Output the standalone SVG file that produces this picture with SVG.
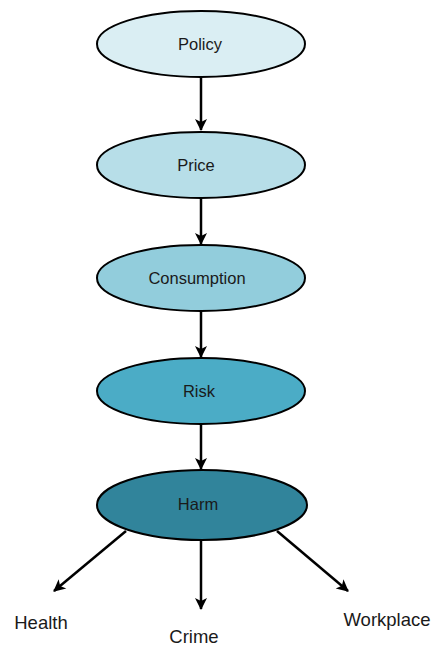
<svg xmlns="http://www.w3.org/2000/svg" width="434" height="648" viewBox="0 0 434 648">
<style>
.node{stroke:#000;stroke-width:2}
.lbl{font-family:"Liberation Sans",Arial,sans-serif;font-size:16.5px;fill:#1a1a1a;text-anchor:middle;dominant-baseline:central}
.out{font-family:"Liberation Sans",Arial,sans-serif;font-size:18.5px;fill:#1a1a1a;text-anchor:middle}
.con{stroke:#000;stroke-width:2.5;fill:none;marker-end:url(#ah)}
</style>
<defs>
<marker id="ah" markerUnits="userSpaceOnUse" markerWidth="14" markerHeight="14" viewBox="0 0 14 14" refX="12" refY="7" orient="auto">
<path d="M1,1 L13,7 L1,13 L4,7 z" fill="#000"/>
</marker>
</defs>
<rect width="434" height="648" fill="#fff"/>
<g id="connectors">
<line class="con" x1="201" y1="78" x2="201" y2="130"/>
<line class="con" x1="201" y1="199" x2="201" y2="244"/>
<line class="con" x1="201" y1="312" x2="201" y2="357"/>
<line class="con" x1="201" y1="425" x2="201" y2="469"/>
<line class="con" x1="126" y1="531" x2="54" y2="591"/>
<line class="con" x1="201" y1="540" x2="201" y2="609"/>
<line class="con" x1="277" y1="531" x2="348" y2="591"/>
</g>
<g id="policy"><ellipse class="node" cx="201" cy="44" rx="104" ry="33" fill="#DAEEF3"/><text class="lbl" x="200" y="44">Policy</text></g>
<g id="price"><ellipse class="node" cx="201" cy="165" rx="104" ry="33" fill="#B7DEE8"/><text class="lbl" x="196" y="165">Price</text></g>
<g id="consumption"><ellipse class="node" cx="201" cy="278" rx="104" ry="33" fill="#92CDDC"/><text class="lbl" x="197" y="278">Consumption</text></g>
<g id="risk"><ellipse class="node" cx="201" cy="391" rx="104" ry="33" fill="#4BACC6"/><text class="lbl" x="199" y="391">Risk</text></g>
<g id="harm"><ellipse class="node" cx="202" cy="505" rx="105" ry="35" fill="#31849B"/><text class="lbl" x="198" y="504">Harm</text></g>
<g id="health"><text class="out" x="41" y="629">Health</text></g>
<g id="crime"><text class="out" x="194" y="643">Crime</text></g>
<g id="workplace"><text class="out" x="387" y="626">Workplace</text></g>
</svg>
